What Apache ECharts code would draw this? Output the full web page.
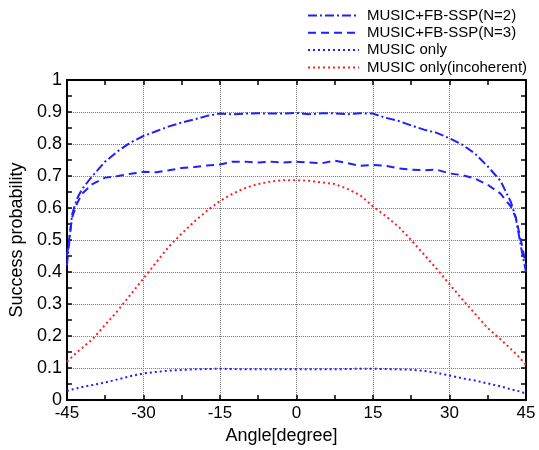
<!DOCTYPE html>
<html>
<head>
<meta charset="utf-8">
<script src="https://cdn.jsdelivr.net/npm/echarts@6/dist/echarts.min.js"></script>
<style>
html,body{margin:0;padding:0;background:#fff;}
#chart{width:539px;height:450px;}
</style>
</head>
<body>
<div id="chart"></div>
<script>
var angles = [-45,-44,-43,-42,-40,-37.5,-35,-32.5,-30,-27.5,-25,-22.5,-20,-17.5,-15,-12.5,-10,-7.5,-5,-2.5,0,2.5,5,7.5,10,12.5,15,17.5,20,22.5,25,27.5,30,32.5,35,37.5,40,42,43,44,45];
var fbN2 = [0.42,0.58,0.63,0.66,0.70,0.745,0.778,0.805,0.825,0.84,0.855,0.867,0.877,0.888,0.895,0.893,0.895,0.896,0.895,0.895,0.897,0.893,0.896,0.896,0.893,0.896,0.895,0.882,0.872,0.858,0.845,0.835,0.818,0.798,0.77,0.73,0.685,0.62,0.57,0.48,0.40];
var fbN3 = [0.45,0.57,0.615,0.645,0.675,0.695,0.70,0.707,0.713,0.712,0.718,0.725,0.728,0.733,0.736,0.745,0.745,0.742,0.745,0.742,0.745,0.742,0.74,0.748,0.74,0.732,0.735,0.732,0.724,0.72,0.718,0.72,0.708,0.703,0.692,0.673,0.645,0.605,0.57,0.50,0.42];
var musicOnly = [0.028,0.033,0.037,0.041,0.047,0.055,0.065,0.075,0.083,0.088,0.092,0.094,0.096,0.097,0.098,0.097,0.096,0.096,0.096,0.096,0.096,0.096,0.096,0.096,0.097,0.098,0.098,0.097,0.096,0.095,0.091,0.085,0.077,0.068,0.061,0.052,0.043,0.034,0.030,0.026,0.020];
var musicIncoh = [0.12,0.135,0.15,0.163,0.19,0.235,0.28,0.33,0.38,0.43,0.48,0.52,0.558,0.592,0.622,0.645,0.663,0.675,0.683,0.687,0.687,0.685,0.68,0.675,0.66,0.64,0.605,0.575,0.542,0.50,0.455,0.41,0.362,0.315,0.27,0.225,0.19,0.16,0.145,0.128,0.11];
var seriesNames = ['MUSIC+FB-SSP(N=2)','MUSIC+FB-SSP(N=3)','MUSIC only','MUSIC only(incoherent)'];

function pairs(ys){ return angles.map(function(a,i){ return [a, ys[i]]; }); }

var FONT = '"Liberation Sans", Arial, sans-serif';
var chart = echarts.init(document.getElementById('chart'), null, {renderer:'canvas'});

var baseX = {
  type:'value', min:-45, max:45, interval:15,
  axisLine:{show:true, onZero:false, lineStyle:{color:'#000', width:2}},
  axisTick:{show:true, inside:true, length:5, lineStyle:{color:'#000', width:1.5}},
  minorTick:{show:true, splitNumber:2, length:5, lineStyle:{color:'#000', width:1.5}},
  splitLine:{show:false}
};
var baseY = {
  type:'value', min:0, max:1, interval:0.1,
  axisLine:{show:true, onZero:false, lineStyle:{color:'#000', width:2}},
  axisTick:{show:true, inside:true, length:5, lineStyle:{color:'#000', width:1.5}},
  minorTick:{show:true, splitNumber:2, length:5, lineStyle:{color:'#000', width:1.5}},
  splitLine:{show:false}
};

var option = {
  animation:false,
  backgroundColor:'#fff',
  textStyle:{fontFamily:FONT},
  grid:{left:66.5, right:13, top:80, bottom:37, containLabel:false},
  legend:{
    orient:'vertical', left:307, top:8, padding:0, itemWidth:51, itemHeight:14, itemGap:2.3,
    itemStyle:{color:'transparent', borderColor:'transparent', borderWidth:0, opacity:0},
    textStyle:{fontSize:15, color:'#000', fontFamily:FONT, padding:[0,0,0,3]},
    data:seriesNames
  },
  xAxis:[
    Object.assign({}, baseX, {
      position:'bottom',
      axisLabel:{show:true, fontSize:17, color:'#000', margin:5, fontFamily:FONT},
      splitLine:{show:true, lineStyle:{color:'#777', width:1, type:[1,1]}},
      name:'Angle[degree]', nameLocation:'middle', nameGap:20,
      nameTextStyle:{fontSize:18, color:'#000', fontFamily:FONT, padding:[0,30,0,0]}
    }),
    Object.assign({}, baseX, {position:'top', axisLabel:{show:false}})
  ],
  yAxis:[
    Object.assign({}, baseY, {
      position:'left',
      axisLabel:{show:true, fontSize:18, color:'#000', margin:5, fontFamily:FONT},
      splitLine:{show:true, lineStyle:{color:'#777', width:1, type:[1,1]}},
      name:'Success probability', nameLocation:'middle', nameGap:40,
      nameTextStyle:{fontSize:18, color:'#000', fontFamily:FONT}
    }),
    Object.assign({}, baseY, {position:'right', axisLabel:{show:false}})
  ],
  series:[
    {name:seriesNames[0], type:'line', data:pairs(fbN2), symbol:'none',
     lineStyle:{color:'#1f1fff', width:2, type:[9,3,2,3]}, itemStyle:{color:'#1f1fff'}},
    {name:seriesNames[1], type:'line', data:pairs(fbN3), symbol:'none',
     lineStyle:{color:'#1f1fff', width:2, type:[8,5]}, itemStyle:{color:'#1f1fff'}},
    {name:seriesNames[2], type:'line', data:pairs(musicOnly), symbol:'none',
     lineStyle:{color:'#1f1fff', width:2, type:[2,3]}, itemStyle:{color:'#1f1fff'}},
    {name:seriesNames[3], type:'line', data:pairs(musicIncoh), symbol:'none',
     lineStyle:{color:'#ff2020', width:2, type:[2,3]}, itemStyle:{color:'#ff2020'}}
  ]
};
chart.setOption(option);
</script>
</body>
</html>
